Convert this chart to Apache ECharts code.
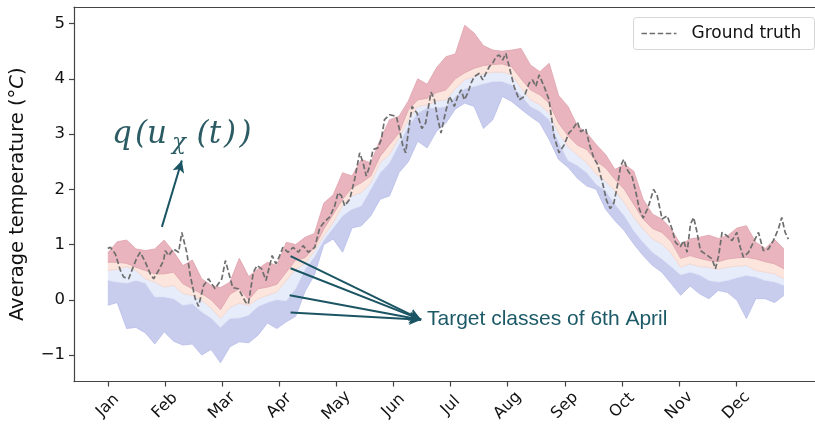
<!DOCTYPE html>
<html>
<head>
<meta charset="utf-8">
<script src="https://cdn.jsdelivr.net/npm/echarts@6/dist/echarts.min.js"></script>
<style>html,body{margin:0;padding:0;background:#fff}#c{width:815px;height:425px}</style>
</head>
<body>
<div id="c"></div>
<script>
// ---------- data ----------
const monthNames = ['Jan','Feb','Mar','Apr','May','Jun','Jul','Aug','Sep','Oct','Nov','Dec'];
const monthTicks = [0, 30.4, 60.8, 91.3, 121.7, 152.1, 182.5, 212.9, 243.3, 273.8, 304.2, 334.6];
const yTicks = [-1, 0, 1, 2, 3, 4, 5];

const days = [0,5,10,15,20,25,30,35,40,45,50,55,60,65,70,75,80,85,90,95,100,105,110,115,120,
  125,130,135,140,145,150,155,160,165,170,175,180,185,190,195,200,205,210,215,220,225,230,235,240,
  245,250,255,260,265,270,275,280,285,290,295,300,305,310,315,320,325,330,335,340,345,350,355,360];

const qTop = [0.85,1.05,1.08,0.92,0.89,0.92,1.08,0.87,0.62,0.72,0.38,0.26,0.22,
  0.32,0.75,0.42,0.56,0.68,0.62,1.04,1.0,1.13,1.2,1.75,1.9,
  2.3,2.24,2.54,2.48,2.9,3.26,3.32,3.6,4.0,3.9,4.2,4.4,
  4.45,4.97,4.83,4.6,4.52,4.5,4.52,4.55,4.25,4.13,4.28,3.7,
  3.5,3.15,3.02,2.81,2.63,2.36,2.45,2.33,1.82,1.55,1.46,1.28,
  1.0,1.1,1.13,1.17,1.11,1.16,1.3,1.34,1.04,0.93,1.09,0.92];
const qHigh = [0.68,0.68,0.66,0.59,0.53,0.47,0.47,0.5,0.29,0.2,0.11,0.0,-0.18,
  0.1,0.2,0.0,0.2,0.23,0.28,0.5,0.72,0.76,0.95,1.28,1.55,
  1.82,2.03,2.12,2.24,2.6,2.81,3.02,3.44,3.62,3.65,3.75,3.8,
  4.0,4.11,4.19,4.24,4.26,4.27,4.22,4.0,3.8,3.71,3.56,3.2,
  2.97,2.8,2.72,2.51,2.39,2.18,2.0,1.73,1.46,1.29,1.22,1.05,
  0.75,0.8,0.75,0.71,0.69,0.74,0.76,0.77,0.74,0.69,0.65,0.56];
const qMid = [0.53,0.55,0.6,0.53,0.38,0.32,0.23,0.26,0.11,0.08,-0.01,-0.15,-0.34,
  -0.14,-0.06,-0.1,0.02,0.08,0.14,0.35,0.55,0.66,0.88,1.16,1.4,
  1.7,1.88,1.94,2.12,2.48,2.63,2.93,3.26,3.5,3.53,3.6,3.62,
  3.82,3.98,4.04,4.09,4.12,4.12,4.07,3.84,3.62,3.53,3.38,3.02,
  2.77,2.62,2.48,2.27,2.15,1.97,1.76,1.49,1.28,1.1,1.01,0.84,
  0.59,0.65,0.6,0.59,0.55,0.59,0.61,0.62,0.53,0.5,0.47,0.38];
const qLow = [0.35,0.32,0.3,0.35,0.3,0.05,0.05,0.02,-0.1,-0.07,-0.22,-0.33,-0.5,
  -0.34,-0.33,-0.28,-0.12,-0.05,0.0,-0.02,0.2,0.55,0.78,1.08,1.3,
  1.52,1.64,1.7,2.0,2.3,2.48,2.81,3.14,3.38,3.47,3.47,3.5,
  3.68,3.82,3.86,3.91,3.95,3.95,3.89,3.7,3.5,3.41,3.26,2.85,
  2.52,2.43,2.3,2.09,1.97,1.73,1.52,1.25,1.04,0.86,0.74,0.6,
  0.45,0.5,0.45,0.35,0.32,0.35,0.4,0.44,0.41,0.35,0.32,0.26];
const qBottom = [-0.1,-0.05,-0.52,-0.5,-0.6,-0.8,-0.58,-0.75,-0.82,-0.8,-1.0,-0.9,-1.14,
  -0.85,-0.76,-0.78,-0.64,-0.42,-0.52,-0.4,-0.3,0.15,0.45,1.0,1.1,
  0.86,1.3,1.34,1.52,1.82,1.88,2.3,2.5,2.87,2.75,3.05,3.2,
  3.45,3.56,3.5,3.1,3.26,3.68,3.59,3.45,3.32,3.2,2.9,2.54,
  2.4,2.2,2.06,2.0,1.64,1.43,1.25,1.01,0.8,0.62,0.5,0.29,
  0.08,0.25,0.11,0.02,0.17,0.13,-0.01,-0.34,0.02,0.02,-0.05,0.08];

const truthDays = [0,1.4,4,6.7,8.5,11.1,13.8,15.6,17.3,20,22.6,24.4,27,29.7,30.6,32.4,35,37.7,39.4,42,43.9,46.5,48.3,51,53.6,57.1,60.7,62.6,66.5,69.5,73.5,74.8,77.5,79.5,81.9,84.2,87.5,89.5,91.8,93.2,96,98.7,101.4,104,106.7,110.2,112.8,115.5,118.2,120.8,122.6,124.4,126.1,128.8,131.4,134.1,135.9,137.6,139.4,141.2,143.8,145.6,147.3,150,153.6,155.3,157.1,158.6,160.2,162,164.6,167.2,169.2,172.1,173.9,175.5,177.4,179.5,181.9,184.5,186.3,188.1,189.8,191.6,193.4,195.1,197.8,199.6,201.3,203.1,204.9,206.6,208.4,210.2,211.9,213.7,216.3,219,221.7,224.3,226.1,227.9,229.6,232.3,234.9,237.6,240.2,242.9,245.5,247.3,250,251.8,254.4,256.5,258.8,260.8,263.5,265.5,267.5,269.4,271.5,273,274.7,276.8,279.2,281.3,283,285,287.5,290.6,292.5,295.1,297.8,300.4,302.2,304.8,306.6,308.4,310.2,311.9,313.7,315.5,318.1,321.7,323.5,325.2,327,329.6,332.3,334.9,336.7,338.4,341.1,343.7,346.4,349,351.7,354.3,357,358.8,360.6,362.3];
const truthValues = [0.93,0.95,0.83,0.53,0.41,0.38,0.62,0.77,0.86,0.68,0.47,0.38,0.53,0.71,0.89,0.8,0.92,0.86,1.22,0.86,0.44,0.02,-0.12,0.26,0.38,0.2,0.38,0.71,0.22,0.2,-0.05,-0.08,0.5,0.62,0.56,0.35,0.8,0.65,0.82,0.95,0.86,0.95,0.86,0.98,0.86,0.95,1.3,1.42,1.5,1.7,1.94,1.88,1.7,1.82,2.18,2.66,2.48,2.24,2.42,2.72,2.75,2.9,3.26,3.35,3.32,3.08,2.78,2.66,3.1,3.5,3.38,3.1,3.2,3.76,3.62,3.3,3.02,3.35,3.68,3.5,3.68,3.8,3.62,3.74,3.92,4.04,4.1,3.98,4.1,4.22,4.28,4.4,4.43,4.34,4.46,4.22,3.86,3.62,3.68,3.92,3.98,3.86,4.07,3.86,3.62,2.96,2.66,2.8,3.02,3.08,3.22,3.04,3.1,2.8,2.56,2.45,2.1,1.8,1.65,1.75,2.1,2.42,2.54,2.34,2.22,1.92,1.64,1.48,1.66,2.0,1.88,1.46,1.52,1.28,1.04,0.96,1.07,0.86,1.37,1.49,1.22,0.89,0.83,0.74,0.56,0.8,1.22,1.16,1.07,1.22,0.95,0.77,0.86,1.04,1.22,0.89,0.92,1.07,1.28,1.49,1.22,1.1];

// annotation anchor points (data space)
const targetStarts = [[97.3, 0.79], [97.3, 0.57], [96.8, 0.08], [97.3, -0.23]];
const targetEnd = [166.8, -0.36];
const formulaArrow = [[28.8, 1.32], [39.4, 2.52]];

// ---------- build ----------
const bounds = [qBottom, qLow, qMid, qHigh, qTop];
const fills = ['#c8cdee', '#e7ecfb', '#fbe5dd', '#e9b4bd'];
const edges = ['#b7bde8', '#dde3f8', '#f4d6cb', '#dfa2ad'];

const bandSeries = {
  type: 'custom', name: 'bands', silent: true, z: 2, clip: true,
  data: [[0, 0], [1, 0], [2, 0], [3, 0]],
  encode: { x: -1, y: -1 },
  renderItem: (params, api) => {
    const k = params.dataIndex;
    const lower = bounds[k], upper = bounds[k + 1];
    const up = days.map((d, i) => api.coord([d, upper[i]]));
    const lo = days.map((d, i) => api.coord([d, lower[i]]));
    const poly = up.concat(lo.slice().reverse());
    return {
      type: 'group',
      children: [
        { type: 'polygon', shape: { points: poly }, style: { fill: fills[k], stroke: null } },
        { type: 'polyline', shape: { points: up }, style: { fill: null, stroke: edges[k], lineWidth: 0.8 } },
        { type: 'polyline', shape: { points: lo }, style: { fill: null, stroke: edges[k], lineWidth: 0.8 } }
      ]
    };
  }
};

const arrowStyle = { color: '#1b5563', width: 2, type: 'solid' };
const markLines = targetStarts.map(p => [{ coord: p }, { coord: targetEnd }]);
markLines.push([{ coord: formulaArrow[0] }, { coord: formulaArrow[1] }]);

const truthSeries = {
  type: 'line', name: 'Ground truth', z: 5,
  data: truthDays.map((d, i) => [d, truthValues[i]]),
  symbol: 'none',
  lineStyle: { color: '#6e6e6e', width: 1.7, type: [5.5, 2.6] },
  markLine: {
    silent: true, animation: false,
    symbol: ['none', 'arrow'], symbolSize: [9, 12],
    label: { show: false },
    lineStyle: arrowStyle,
    emphasis: { disabled: true },
    data: markLines
  }
};

// formula glyphs: [text, centre x, centre y, size]
const formulaGlyphs = [['q', 122, 135, 31], ['(', 141, 135, 31], ['u', 157, 135, 31],
  ['χ', 179, 143, 23], ['(', 202.5, 135, 31], ['t', 215, 135, 31], [')', 230, 135, 31], [')', 245.5, 135, 31]];
const tealText = '#2b5b63';
const formulaGraphics = formulaGlyphs.map(g => ({
  type: 'text', x: g[1], y: g[2], z: 10,
  style: { text: g[0], fontFamily: 'DejaVu Serif', fontStyle: 'italic', fontSize: g[3],
    fill: tealText, align: 'center', verticalAlign: 'middle' }
}));

const axisColor = '#444';
const chart = echarts.init(document.getElementById('c'), null, { renderer: 'canvas' });
chart.setOption({
  animation: false,
  backgroundColor: '#fff',
  grid: { left: 71, right: 0, top: 7, bottom: 42, containLabel: false },
  xAxis: [{
    type: 'value', min: -18, max: 376.5, z: 10,
    axisLine: { show: true, onZero: false, lineStyle: { color: axisColor, width: 1.2 } },
    axisTick: { show: true, length: 5, customValues: monthTicks, lineStyle: { color: axisColor, width: 1.2 } },
    axisLabel: {
      customValues: monthTicks, rotate: 45, align: 'center', verticalAlign: 'middle', margin: 24,
      fontFamily: 'DejaVu Sans', fontSize: 16, color: '#111',
      formatter: v => {
        let best = 0;
        monthTicks.forEach((t, i) => { if (Math.abs(t - v) < Math.abs(monthTicks[best] - v)) best = i; });
        return monthNames[best];
      }
    },
    splitLine: { show: false }
  }, {
    type: 'value', position: 'top', min: -18, max: 376.5, z: 10,
    axisLine: { show: true, onZero: false, lineStyle: { color: axisColor, width: 1.2 } },
    axisTick: { show: false }, axisLabel: { show: false }, splitLine: { show: false }
  }],
  yAxis: {
    type: 'value', min: -1.48, max: 5.3, z: 10,
    name: '{n|Average temperature (°}{i|C}{n|)}',
    nameLocation: 'middle', nameGap: 46,
    nameTextStyle: {
      rich: {
        n: { fontFamily: 'DejaVu Sans', fontSize: 19.5, color: '#111' },
        i: { fontFamily: 'DejaVu Sans', fontSize: 19.5, fontStyle: 'italic', color: '#111' }
      }
    },
    axisLine: { show: true, onZero: false, lineStyle: { color: axisColor, width: 1.2 } },
    axisTick: { show: true, length: 5, customValues: yTicks, lineStyle: { color: axisColor, width: 1.2 } },
    axisLabel: {
      customValues: yTicks, margin: 9,
      fontFamily: 'DejaVu Sans', fontSize: 16.5, color: '#111',
      formatter: v => String(v).replace('-', '\u2212')
    },
    splitLine: { show: false }
  },
  graphic: formulaGraphics.concat([
    { type: 'text', left: 427, top: 309, z: 10,
      style: { text: 'Target classes of 6th April', fontFamily: 'Liberation Sans', fontSize: 21, fill: '#1c5a67' } },
    { type: 'group', left: 633, top: 17, z: 20, children: [
      { type: 'rect', shape: { x: 0, y: 0, width: 181, height: 32, r: 3 },
        style: { fill: 'rgba(255,255,255,0.85)', stroke: '#d6d6d6', lineWidth: 1 } },
      { type: 'line', shape: { x1: 8, y1: 16, x2: 43, y2: 16 },
        style: { stroke: '#6e6e6e', lineWidth: 1.7, lineDash: [5.5, 2.6] } },
      { type: 'text', x: 58, y: 16,
        style: { text: 'Ground truth', fontFamily: 'DejaVu Sans', fontSize: 17, fill: '#111', verticalAlign: 'middle' } }
    ] }
  ]),
  series: [bandSeries, truthSeries]
});
</script>
</body>
</html>
